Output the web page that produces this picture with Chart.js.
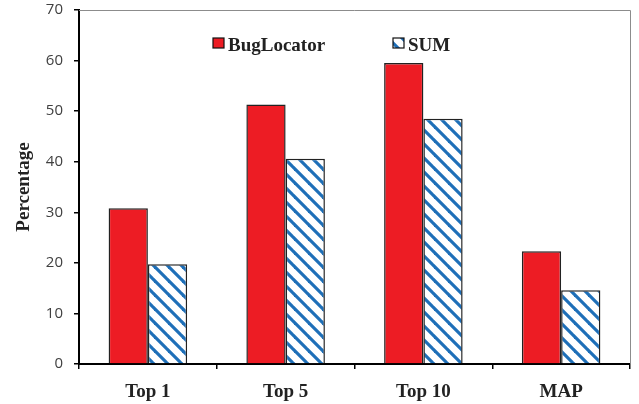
<!DOCTYPE html>
<html>
<head>
<meta charset="utf-8">
<script src="https://cdn.jsdelivr.net/npm/chart.js@4/dist/chart.umd.min.js"></script>
<style>
    html, body { margin: 0; padding: 0; background: #fff; }
    #wrap { width: 639px; height: 404px; }
</style>
</head>
<body>
<div id="wrap"><canvas id="chart" width="639" height="404"></canvas></div>
<script>
// chart data
const categories = ['Top 1', 'Top 5', 'Top 10', 'MAP'];
const bugLocatorValues = [30.8, 51.3, 59.5, 22.3];
const sumValues = [19.7, 40.6, 48.5, 14.6];
const yTicks = [0, 10, 20, 30, 40, 50, 60, 70];

const RED = '#ED1C24';
const BLUE = '#1E6FB8';

// diagonal hatch for the SUM bars
function makeHatch() {
    const size = 14;
    const c = document.createElement('canvas');
    c.width = size;
    c.height = size;
    const ctx = c.getContext('2d');
    ctx.fillStyle = '#fff';
    ctx.fillRect(0, 0, size, size);
    ctx.strokeStyle = BLUE;
    ctx.lineWidth = 3.2;
    [-size, 0, size].forEach(k => {
        ctx.beginPath();
        ctx.moveTo(k - 2, -2);
        ctx.lineTo(k + size + 2, size + 2);
        ctx.stroke();
    });
    return ctx.createPattern(c, 'repeat');
}
const hatch = makeHatch();

// grey top/right frame of the plot area
const frame = {
    id: 'frame',
    beforeDatasetsDraw(chart) {
        const {ctx, chartArea: a} = chart;
        ctx.save();
        ctx.strokeStyle = '#8c8c8c';
        ctx.lineWidth = 1;
        ctx.beginPath();
        ctx.moveTo(a.left, a.top + 0.5);
        ctx.lineTo(a.right + 0.5, a.top + 0.5);
        ctx.lineTo(a.right + 0.5, a.bottom);
        ctx.stroke();
        ctx.restore();
    }
};

// legend inside the plot, like the original
const insideLegend = {
    id: 'insideLegend',
    afterDraw(chart) {
        const ctx = chart.ctx;
        const spots = [213, 393];
        ctx.save();
        chart.data.datasets.forEach((ds, i) => {
            const x = spots[i];
            const y = 38;
            ctx.fillStyle = ds.backgroundColor;
            ctx.fillRect(x, y, 11, 10);
            ctx.strokeStyle = '#111';
            ctx.lineWidth = 1.2;
            ctx.strokeRect(x, y, 11, 10);
            ctx.fillStyle = '#222';
            ctx.font = 'bold 19px "Liberation Serif"';
            ctx.textBaseline = 'alphabetic';
            ctx.fillText(ds.label, x + 15, 51);
        });
        ctx.restore();
    }
};

new Chart(document.getElementById('chart'), {
    type: 'bar',
    data: {
        labels: categories,
        datasets: [{
            label: 'BugLocator',
            data: bugLocatorValues,
            backgroundColor: RED,
            borderColor: '#222',
            borderWidth: 1.5,
            categoryPercentage: 0.57,
            barPercentage: 1
        }, {
            label: 'SUM',
            data: sumValues,
            backgroundColor: hatch,
            borderColor: '#222',
            borderWidth: 1.5,
            categoryPercentage: 0.57,
            barPercentage: 1
        }]
    },
    options: {
        responsive: false,
        animation: false,
        layout: {padding: {left: 0, top: 10, right: 9, bottom: 0}},
        plugins: {
            legend: {display: false},
            tooltip: {enabled: false}
        },
        scales: {
            x: {
                offset: true,
                grid: {
                    offset: true,
                    drawOnChartArea: false,
                    tickLength: 5,
                    color: '#000',
                    lineWidth: 1.5
                },
                border: {color: '#000', width: 2},
                ticks: {
                    padding: 12,
                    color: '#222',
                    font: {family: 'Liberation Serif', weight: 'bold', size: 19}
                },
                afterFit(scale) {
                    scale.height = 40;
                    scale.paddingLeft = 0;
                    scale.paddingRight = 0;
                }
            },
            y: {
                min: 0,
                max: 70,
                afterBuildTicks(scale) {
                    scale.ticks = yTicks.map(v => ({value: v}));
                },
                grid: {
                    drawOnChartArea: false,
                    tickLength: 5,
                    color: '#000',
                    lineWidth: 1.5
                },
                border: {color: '#000', width: 2},
                ticks: {
                    padding: 11,
                    color: '#404040',
                    font: {family: 'Open Sans', size: 15}
                },
                title: {
                    display: true,
                    text: 'Percentage',
                    color: '#222',
                    padding: 13,
                    font: {family: 'Liberation Serif', weight: 'bold', size: 19}
                },
                afterFit(scale) {
                    scale.width = 79;
                    scale.paddingTop = 0;
                    scale.paddingBottom = 0;
                }
            }
        }
    },
    plugins: [frame, insideLegend]
});
</script>
</body>
</html>
